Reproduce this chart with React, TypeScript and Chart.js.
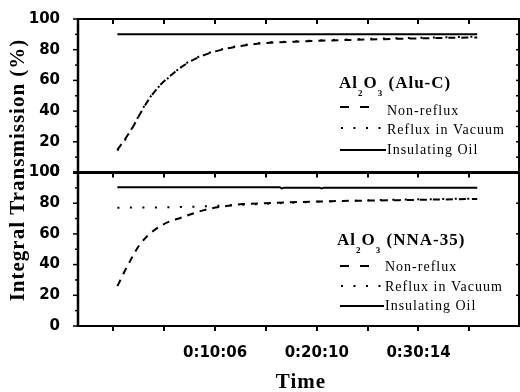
import React, { useEffect, useRef } from 'react';
import { Chart, registerables } from 'chart.js';

Chart.register(...registerables);

// ---- Data (time in seconds) ----
const topTimes = [26, 73, 120, 162, 209, 280, 357, 416, 517, 665, 872, 1080, 1287, 1500, 1701, 1930, 2163];
const topNonReflux = [14.8, 22, 30, 38.5, 47, 57, 64.5, 69.5, 75.5, 80.5, 84, 85.2, 86, 86.6, 87.1, 87.6, 88];
const topRefluxVacuum = [14.3, 21.5, 30.3, 38.8, 47.3, 56.8, 64.3, 69.8, 75.8, 80.8, 84.3, 85.5, 86.3, 87, 87.5, 88, 88.5];
const topOilTimes = [26, 2163];
const topInsulatingOil = [90, 90];

const bottomTimes = [26, 85, 162, 280, 416, 558, 665, 772, 900, 1109, 1300, 1500, 1701, 1930, 2163];
const bottomNonReflux = [26, 39, 53.5, 65, 71, 76, 78, 79.4, 80, 80.8, 81.3, 81.7, 82, 82.4, 82.8];
const bottomRefluxVacuum = [77, 77.1, 77.2, 77.3, 77.6, 78, 78.5, 79, 79.6, 80.5, 81.2, 81.8, 82.3, 82.7, 83];
const bottomOilTimes = [26, 990, 1002, 1014, 1227, 1239, 1251, 2163];
const bottomInsulatingOil = [90.4, 90.4, 89.6, 90, 90, 89.6, 90, 90];

const xTickValues = [2, 304, 606, 908, 1210, 1512, 1814, 2116];
const xTickLabels = ['', '', '0:10:06', '', '0:20:10', '', '0:30:14', ''];
const yLabelStep = 20;

const legendRows = ['Non-reflux', 'Reflux in Vacuum', 'Insulating Oil'];
const topTitleParts = [
  { t: 'Al' }, { t: '2', sub: true }, { t: 'O' }, { t: '3', sub: true }, { t: ' (Alu-C)' },
];
const bottomTitleParts = [
  { t: 'Al' }, { t: '2', sub: true }, { t: 'O' }, { t: '3', sub: true }, { t: ' (NNA-35)' },
];

const zip = (xs: number[], ys: number[]) => xs.map((x, i) => ({ x, y: ys[i] }));

const DASH = [7, 6];
const DOT = [2, 10.5];

function drawTitle(ctx: CanvasRenderingContext2D, x: number, baseline: number, parts: { t: string; sub?: boolean }[]) {
  let cx = x;
  ctx.textAlign = 'left';
  ctx.textBaseline = 'alphabetic';
  (ctx as any).letterSpacing = '1px';
  for (const p of parts) {
    if (p.sub) {
      ctx.font = 'bold 9px "Liberation Serif"';
      ctx.fillText(p.t, cx, baseline + 8);
    } else {
      ctx.font = 'bold 17px "Liberation Serif"';
      ctx.fillText(p.t, cx, baseline);
    }
    cx += ctx.measureText(p.t).width;
  }
}

function drawLegend(ctx: CanvasRenderingContext2D, titleX: number, titleBase: number, parts: any[], sampleX: number, textX: number, rowY: number[], rowBase: number[]) {
  drawTitle(ctx, titleX, titleBase, parts);
  ctx.strokeStyle = '#000';
  ctx.lineWidth = 2;
  ctx.setLineDash([9, 11]);
  ctx.beginPath(); ctx.moveTo(sampleX, rowY[0]); ctx.lineTo(sampleX + 31, rowY[0]); ctx.stroke();
  ctx.setLineDash([2, 10.5]);
  ctx.beginPath(); ctx.moveTo(sampleX + 1, rowY[1]); ctx.lineTo(sampleX + 42, rowY[1]); ctx.stroke();
  ctx.setLineDash([]);
  ctx.beginPath(); ctx.moveTo(sampleX, rowY[2]); ctx.lineTo(textX - 1, rowY[2]); ctx.stroke();
  ctx.font = '14px "Liberation Serif"';
  (ctx as any).letterSpacing = '1px';
  ctx.textAlign = 'left';
  ctx.textBaseline = 'alphabetic';
  legendRows.forEach((r, i) => ctx.fillText(r, textX, rowBase[i]));
}

const framePlugin = {
  id: 'frameAndText',
  afterDraw(chart: any) {
    const { ctx, chartArea: ca, scales } = chart;
    const xs = scales.x, yT = scales.yTop, yB = scales.yBot;
    ctx.save();
    ctx.strokeStyle = '#000';
    ctx.fillStyle = '#000';
    ctx.setLineDash([]);
    ctx.lineCap = 'butt';
    const seg = (x1: number, y1: number, x2: number, y2: number, w: number) => {
      ctx.lineWidth = w; ctx.beginPath(); ctx.moveTo(x1, y1); ctx.lineTo(x2, y2); ctx.stroke();
    };
    const sepY = yT.getPixelForValue(0);
    seg(ca.left, ca.top - 1, ca.left, ca.bottom + 1, 2.5);
    seg(ca.left - 1, ca.bottom, ca.right + 1, ca.bottom, 2);
    seg(ca.left, ca.top, ca.right, ca.top, 2);
    seg(ca.right, ca.top - 1, ca.right, ca.bottom + 1, 2);
    seg(ca.left - 5, sepY, ca.right, sepY, 3);
    for (const t of xTickValues) {
      const px = Math.round(xs.getPixelForValue(t));
      seg(px, ca.bottom, px, ca.bottom + 5, 2);
      seg(px, ca.top, px, ca.top + 5, 2);
      seg(px, sepY, px, sepY + 5, 2);
    }
    for (const ys of [yT, yB]) {
      for (let v = 0; v <= 100; v += 10) {
        const py = ys.getPixelForValue(v);
        seg(ca.left - (v % 20 === 0 ? 5 : 3), py, ca.left, py, 1.5);
      }
    }
    for (let v = 10; v < 100; v += 10) {
      const py = yT.getPixelForValue(v);
      seg(ca.right - 3, py, ca.right, py, 1.5);
    }
    for (let v = 20; v < 100; v += 20) {
      const py = yB.getPixelForValue(v);
      seg(ca.right - 3, py, ca.right, py, 1.5);
    }

    drawLegend(ctx, 339, 88, topTitleParts, 340, 387, [107, 128, 150], [115, 134, 154]);
    drawLegend(ctx, 337, 245, bottomTitleParts, 340, 385, [266, 286, 306], [271, 291, 310]);

    (ctx as any).letterSpacing = '1px';
    ctx.font = 'bold 21px "Liberation Serif"';
    ctx.textAlign = 'center';
    ctx.textBaseline = 'alphabetic';
    ctx.fillText('Time', 301, 388);
    ctx.translate(23.5, 170);
    ctx.rotate(-Math.PI / 2);
    ctx.fillText('Integral Transmission (%)', 0, 0);
    (ctx as any).letterSpacing = '0px';
    ctx.restore();
  },
};

const tickFont = { family: '"DejaVu Sans"', weight: 'bold' as const, size: 15 };

export default function App() {
  const ref = useRef<HTMLCanvasElement>(null);
  useEffect(() => {
    if (!ref.current) return;
    const line = (label: string, data: any, yAxisID: string, dash: number[]) => ({
      label, data, yAxisID,
      borderColor: '#000', backgroundColor: '#000', borderWidth: 2,
      borderDash: dash, pointRadius: 0, fill: false,
      cubicInterpolationMode: 'monotone' as const,
    });
    const yAxis = (afterFitW: number) => ({
      type: 'linear' as const,
      position: 'left' as const,
      stack: 'panels',
      stackWeight: 1,
      min: 0,
      max: 100,
      ticks: {
        stepSize: 10,
        autoSkip: false,
        padding: 10,
        color: '#000',
        font: tickFont,
        callback: (v: any) => (Number(v) % yLabelStep === 0 ? String(v) : ''),
      },
      grid: { display: false },
      border: { display: false },
      afterFit: (s: any) => { s.width = afterFitW; },
    });
    const chart = new Chart(ref.current, {
      type: 'line',
      data: {
        datasets: [
          line('Non-reflux', zip(topTimes, topNonReflux), 'yTop', DASH),
          line('Reflux in Vacuum', zip(topTimes, topRefluxVacuum), 'yTop', DOT),
          line('Insulating Oil', zip(topOilTimes, topInsulatingOil), 'yTop', []),
          line('Non-reflux', zip(bottomTimes, bottomNonReflux), 'yBot', DASH),
          line('Reflux in Vacuum', zip(bottomTimes, bottomRefluxVacuum), 'yBot', DOT),
          line('Insulating Oil', zip(bottomOilTimes, bottomInsulatingOil), 'yBot', []),
        ],
      },
      options: {
        animation: false,
        responsive: false,
        devicePixelRatio: 1,
        layout: { padding: { top: 15, right: 1, left: 0, bottom: 0 } },
        plugins: { legend: { display: false }, tooltip: { enabled: false } },
        scales: {
          x: {
            type: 'linear',
            position: 'bottom',
            min: -208,
            max: 2411,
            afterBuildTicks: (s: any) => { s.ticks = xTickValues.map((v) => ({ value: v })); },
            ticks: {
              autoSkip: false,
              maxRotation: 0,
              padding: 10,
              color: '#000',
              font: tickFont,
              callback: (v: any) => {
                const i = xTickValues.indexOf(Number(v));
                return i >= 0 ? xTickLabels[i] : '';
              },
            },
            grid: { display: false },
            border: { display: false },
            afterFit: (s: any) => { s.height = 66; },
          },
          yBot: yAxis(78),
          yTop: yAxis(78),
        } as any,
      },
      plugins: [framePlugin],
    });
    return () => chart.destroy();
  }, []);
  return (
    <div style={{ position: 'fixed', left: 0, top: 0, width: 520, height: 392, background: '#fff' }}>
      <canvas ref={ref} width={520} height={392} style={{ display: 'block' }} />
    </div>
  );
}
